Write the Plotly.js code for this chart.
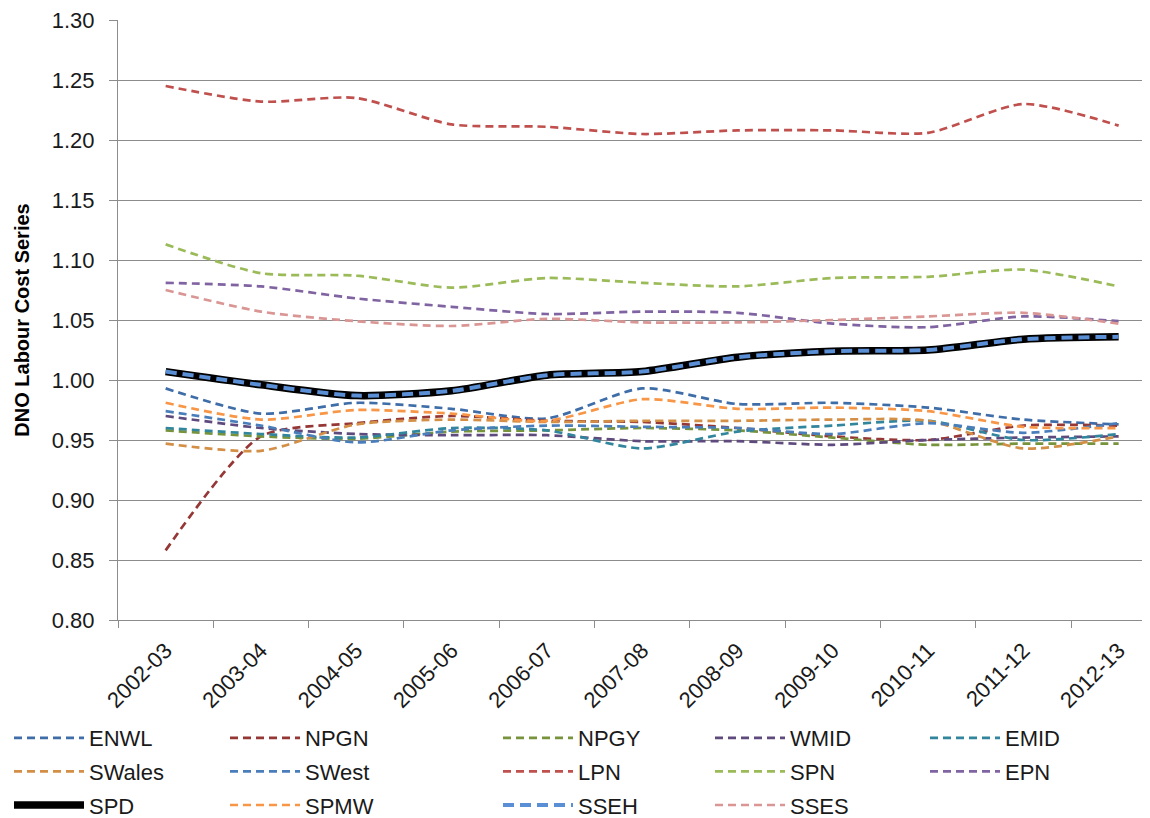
<!DOCTYPE html>
<html>
<head>
<meta charset="utf-8">
<script src="https://cdn.plot.ly/plotly-3.0.1.min.js"></script>
<style>
  html, body { margin: 0; padding: 0; background: #ffffff; overflow: hidden; }
  #chart { width: 1150px; height: 850px; }
</style>
</head>
<body>
<div id="chart"></div>
<script>
// ---- Data ----
const years = ["2002-03","2003-04","2004-05","2005-06","2006-07","2007-08","2008-09","2009-10","2010-11","2011-12","2012-13"];

const ENWL   = [0.993, 0.972, 0.981, 0.976, 0.968, 0.993, 0.980, 0.981, 0.977, 0.967, 0.963];
const NPGN   = [0.858, 0.953, 0.964, 0.970, 0.966, 0.965, 0.960, 0.953, 0.950, 0.962, 0.962];
const NPGY   = [0.958, 0.953, 0.951, 0.957, 0.958, 0.960, 0.958, 0.952, 0.946, 0.947, 0.947];
const WMID   = [0.970, 0.960, 0.955, 0.954, 0.954, 0.949, 0.949, 0.946, 0.950, 0.952, 0.953];
const EMID   = [0.960, 0.955, 0.952, 0.960, 0.958, 0.943, 0.957, 0.962, 0.966, 0.950, 0.955];
const SWales = [0.947, 0.941, 0.963, 0.967, 0.965, 0.966, 0.966, 0.967, 0.966, 0.943, 0.953];
const SWest  = [0.974, 0.962, 0.948, 0.958, 0.962, 0.961, 0.960, 0.955, 0.964, 0.956, 0.964];
const LPN    = [1.245, 1.232, 1.235, 1.213, 1.211, 1.205, 1.208, 1.208, 1.206, 1.230, 1.212];
const SPN    = [1.113, 1.089, 1.087, 1.077, 1.085, 1.081, 1.078, 1.085, 1.086, 1.092, 1.078];
const EPN    = [1.081, 1.078, 1.068, 1.061, 1.055, 1.057, 1.056, 1.047, 1.044, 1.053, 1.049];
const SPD    = [1.007, 0.996, 0.987, 0.991, 1.004, 1.007, 1.019, 1.024, 1.025, 1.034, 1.036];
const SPMW   = [0.981, 0.967, 0.975, 0.972, 0.966, 0.984, 0.976, 0.977, 0.974, 0.961, 0.960];
const SSEH   = [1.007, 0.996, 0.987, 0.991, 1.004, 1.007, 1.019, 1.024, 1.025, 1.034, 1.036];
const SSES   = [1.075, 1.057, 1.049, 1.045, 1.051, 1.048, 1.048, 1.050, 1.053, 1.056, 1.047];

const yTickVals = [0.80, 0.85, 0.90, 0.95, 1.00, 1.05, 1.10, 1.15, 1.20, 1.25, 1.30];
const yTickText = ["0.80","0.85","0.90","0.95","1.00","1.05","1.10","1.15","1.20","1.25","1.30"];

// ---- Series definitions: [name, values, colour, width, dash, legend column] ----
const DASH = "8px,5px";
const seriesDefs = [
  ["ENWL",   ENWL,   "#3E6DA8", 2.7, DASH, "legend"],
  ["NPGN",   NPGN,   "#953735", 2.7, DASH, "legend2"],
  ["NPGY",   NPGY,   "#77933C", 2.7, DASH, "legend3"],
  ["WMID",   WMID,   "#5F4A7E", 2.7, DASH, "legend4"],
  ["EMID",   EMID,   "#31859C", 2.7, DASH, "legend5"],
  ["SWales", SWales, "#D38F45", 2.7, DASH, "legend"],
  ["SWest",  SWest,  "#4A7EBB", 2.7, DASH, "legend2"],
  ["LPN",    LPN,    "#C0504D", 2.7, DASH, "legend3"],
  ["SPN",    SPN,    "#9BBB59", 2.7, DASH, "legend4"],
  ["EPN",    EPN,    "#8064A2", 2.7, DASH, "legend5"],
  ["SPD",    SPD,    "#000000", 7.5, "solid", "legend"],
  ["SPMW",   SPMW,   "#F79646", 2.7, DASH, "legend2"],
  ["SSEH",   SSEH,   "#5A8FD5", 4.0, "11px,6px", "legend3"],
  ["SSES",   SSES,   "#D99694", 2.7, DASH, "legend4"]
];

const traces = seriesDefs.map(function (d) {
  return {
    type: "scatter",
    mode: "lines",
    name: d[0],
    x: years,
    y: d[1],
    line: { color: d[2], width: d[3], dash: d[4], shape: "spline", smoothing: 0.7 },
    legend: d[5],
    legendgroup: d[0],
    hoverinfo: "x+y+name"
  };
});

// ---- Layout ----
const W = 1150, H = 850;
const plotLeft = 118, plotRight = 1142, plotTop = 20, plotBottom = 620;
const pw = plotRight - plotLeft, ph = plotBottom - plotTop;
function px2x(px) { return (px - plotLeft) / pw; }
function px2y(py) { return (plotBottom - py) / ph; }

const FONT = "Arial, 'Liberation Sans', sans-serif";
const legendFont = { family: FONT, size: 22, color: "#1a1a1a" };
function legendAt(xpx) {
  return {
    x: px2x(xpx), xanchor: "left", xref: "paper",
    y: px2y(717), yanchor: "top", yref: "paper",
    orientation: "v",
    font: legendFont,
    bgcolor: "rgba(0,0,0,0)",
    borderwidth: 0,
    traceorder: "grouped",
    tracegroupgap: 2,
    itemwidth: 70,
    itemclick: false, itemdoubleclick: false
  };
}

const layout = {
  width: W, height: H,
  margin: { l: plotLeft, r: W - plotRight, t: plotTop, b: H - plotBottom, pad: 0 },
  paper_bgcolor: "#ffffff",
  plot_bgcolor: "#ffffff",
  font: { family: FONT, color: "#1a1a1a" },
  showlegend: true,
  xaxis: {
    type: "category",
    categoryorder: "array",
    categoryarray: years,
    range: [-0.5, 10.245],
    tickson: "boundaries",
    ticks: "outside",
    ticklen: 7,
    tickcolor: "#8c8c8c",
    tickwidth: 1,
    showgrid: false,
    showline: true,
    linecolor: "#8c8c8c",
    linewidth: 1,
    tickangle: -45,
    ticklabelstandoff: 8,
    tickfont: { family: FONT, size: 22, color: "#1a1a1a" },
    zeroline: false,
    fixedrange: true
  },
  yaxis: {
    range: [0.80, 1.30],
    tickvals: yTickVals,
    ticktext: yTickText,
    ticks: "outside",
    ticklen: 8,
    tickcolor: "#8c8c8c",
    showgrid: true,
    gridcolor: "#8c8c8c",
    gridwidth: 1,
    showline: true,
    linecolor: "#8c8c8c",
    linewidth: 1,
    zeroline: false,
    ticklabelstandoff: 10,
    tickfont: { family: FONT, size: 22, color: "#1a1a1a" },
    title: {
      text: "DNO Labour Cost Series",
      font: { family: FONT, size: 20, color: "#000000", weight: "bold" },
      standoff: 16
    },
    fixedrange: true
  },
  legend:  legendAt(9),
  legend2: legendAt(225),
  legend3: legendAt(498),
  legend4: legendAt(710),
  legend5: legendAt(925)
};

Plotly.newPlot("chart", traces, layout, { displayModeBar: false, responsive: false });
</script>
</body>
</html>
